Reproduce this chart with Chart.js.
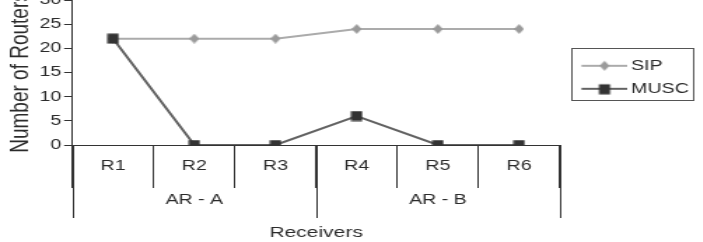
<!DOCTYPE html>
<html>
<head>
<meta charset="utf-8">
<script src="https://cdn.jsdelivr.net/npm/chart.js@4.4.1/dist/chart.umd.min.js"></script>
<style>
  html, body { margin: 0; padding: 0; background: #fff; overflow: hidden; }
  body { width: 703px; height: 242px; position: relative; }
  /* the source picture is stretched sideways, so the chart is drawn narrow and widened */
  #wrap { position: absolute; left: 0; top: -20px; width: 502px; height: 262px;
          transform: scaleX(1.4); transform-origin: 0 0; }
</style>
</head>
<body>
<div id="wrap"><canvas id="chart" width="502" height="262"></canvas></div>
<script>
// ------------ DATA ------------

const receivers = ['R1', 'R2', 'R3', 'R4', 'R5', 'R6'];
const groups = ['AR - A', 'AR - B'];
const groupSizes = [3, 3];
const sipValues = [22, 22, 22, 24, 24, 24];
const muscValues = [22, 0, 0, 6, 0, 0];
const yTicks = [0, 5, 10, 15, 20, 25, 30];

// ------------ STYLE ------------

const FONT = 'Liberation Sans, Arial, sans-serif';
const TEXT = '#2b2b2b';
const AXIS = '#333';
const sipLine = '#ababab', sipMark = '#9a9a9a';
const muscLine = '#626262', muscMark = '#333';

// marker bitmaps are narrower than tall to cancel the sideways stretch
function diamondMarker(color) {
    const c = document.createElement('canvas');
    c.width = 7; c.height = 10;
    const g = c.getContext('2d');
    g.fillStyle = color;
    g.beginPath();
    g.moveTo(3.5, 0); g.lineTo(7, 5); g.lineTo(3.5, 10); g.lineTo(0, 5);
    g.closePath();
    g.fill();
    return c;
}

function squareMarker(color) {
    const c = document.createElement('canvas');
    c.width = 9; c.height = 11;
    const g = c.getContext('2d');
    g.fillStyle = color;
    g.fillRect(0.5, 0.5, 8, 10);
    return c;
}

function legendIcon(lineColor, marker) {
    const c = document.createElement('canvas');
    c.width = 44; c.height = 12;
    const g = c.getContext('2d');
    g.strokeStyle = lineColor;
    g.lineWidth = 2;
    g.beginPath();
    g.moveTo(11, 6); g.lineTo(44, 6);
    g.stroke();
    g.drawImage(marker, Math.round(27.5 - marker.width / 2), Math.round(6 - marker.height / 2));
    return c;
}

const sipMarker = diamondMarker(sipMark);
const muscMarker = squareMarker(muscMark);
const legendIcons = [legendIcon(sipLine, sipMarker), legendIcon(muscLine, muscMarker)];

// ------------ PLUGINS ------------

// second row of the category axis: AR - A / AR - B
const groupRow = {
    id: 'groupRow',
    afterDraw(chart) {
        const x = chart.scales.x;
        const ctx = chart.ctx;
        const half = (x.getPixelForValue(1) - x.getPixelForValue(0)) / 2;
        const edge = i => x.getPixelForValue(i) - half;
        const top = x.top, bottom = x.top + 73;
        ctx.save();
        ctx.strokeStyle = AXIS;
        ctx.lineWidth = 1;
        ctx.fillStyle = TEXT;
        ctx.font = '14px ' + FONT;
        ctx.textAlign = 'center';
        ctx.textBaseline = 'middle';
        let start = 0;
        const cuts = [0];
        groups.forEach((name, i) => {
            const end = start + groupSizes[i];
            cuts.push(end);
            ctx.fillText(name, (edge(start) + edge(end)) / 2, x.top + 55);
            start = end;
        });
        cuts.forEach(c => {
            const px = Math.round(edge(c)) + 0.5;
            ctx.beginPath();
            ctx.moveTo(px, top);
            ctx.lineTo(px, bottom);
            ctx.stroke();
        });
        ctx.restore();
    }
};

// frame round the legend
const legendFrame = {
    id: 'legendFrame',
    afterDraw(chart) {
        const hb = chart.legend.legendHitBoxes;
        if (!hb || !hb.length) return;
        const last = hb[hb.length - 1];
        const left = Math.round(hb[0].left - 1) + 0.5;
        const right = Math.round(Math.max(...hb.map(b => b.left + b.width)) + 3) + 0.5;
        const top = Math.round(hb[0].top + hb[0].height / 2 - 18) + 0.5;
        const bottom = Math.round(last.top + last.height / 2 + 11) + 0.5;
        const ctx = chart.ctx;
        ctx.save();
        ctx.strokeStyle = '#555';
        ctx.lineWidth = 1;
        ctx.strokeRect(left, top, right - left, bottom - top);
        ctx.restore();
    }
};

// ------------ CHART ------------

const data = {
    labels: receivers,
    datasets: [{
        label: 'SIP',
        data: sipValues,
        borderColor: sipLine,
        backgroundColor: sipMark,
        borderWidth: 2,
        pointStyle: sipMarker,
        order: 1
    }, {
        label: 'MUSC',
        data: muscValues,
        borderColor: muscLine,
        backgroundColor: muscMark,
        borderWidth: 2,
        pointStyle: muscMarker,
        order: 0
    }]
};

const config = {
    type: 'line',
    data: data,
    plugins: [groupRow, legendFrame],
    options: {
        responsive: false,
        animation: false,
        layout: { padding: { top: 20, left: 0, right: 0, bottom: 0 } },
        scales: {
            x: {
                type: 'category',
                offset: true,
                grid: { offset: true, drawOnChartArea: false, tickLength: 43, color: AXIS, lineWidth: 1 },
                border: { color: AXIS, width: 1 },
                ticks: { padding: -30, color: TEXT, font: { family: FONT, size: 14 }, maxRotation: 0, autoSkip: false },
                title: { display: true, text: 'Receivers', color: TEXT, font: { family: FONT, size: 15 }, padding: { top: 0, bottom: 0 } },
                afterFit: s => { s.height = 97; }
            },
            y: {
                min: 0,
                max: 30,
                grid: { drawOnChartArea: false, tickLength: 6, color: AXIS },
                border: { color: AXIS, width: 1 },
                ticks: { padding: 2, color: TEXT, font: { family: FONT, size: 14 } },
                afterBuildTicks: s => { s.ticks = yTicks.map(v => ({ value: v })); },
                title: { display: true, text: 'Number of Routers', color: TEXT, font: { family: FONT, size: 19 }, padding: { top: 3, bottom: 0 } },
                afterFit: s => { s.width = 51.8; }
            }
        },
        plugins: {
            legend: {
                position: 'right',
                fullSize: false,
                // empty title only lowers the two rows a little
                title: { display: true, text: '', font: { size: 8 }, padding: 0 },
                labels: {
                    usePointStyle: true,
                    pointStyleWidth: 35,
                    padding: 9,
                    color: TEXT,
                    font: { family: FONT, size: 14 },
                    sort: (a, b) => a.datasetIndex - b.datasetIndex,
                    generateLabels: chart => Chart.defaults.plugins.legend.labels.generateLabels(chart)
                        .map(item => Object.assign(item, { pointStyle: legendIcons[item.datasetIndex] }))
                }
            },
            tooltip: { enabled: false }
        }
    }
};

const chart = new Chart(document.getElementById('chart').getContext('2d'), config);
</script>
</body>
</html>
